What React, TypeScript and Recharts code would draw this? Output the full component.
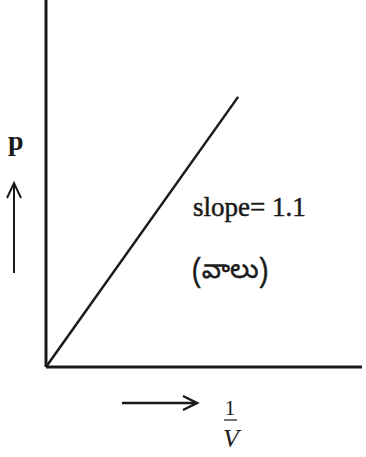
import React from "react";
import { LineChart, Line, XAxis, YAxis, ReferenceLine, Customized } from "recharts";

const xValues = [0, 6.08];
const pValues = [0, 7.36];
const slopeLabel = "slope= 1.1";
const teluguLabel = "(వాలు)";
const yLabel = "p";
const xNumerator = "1";
const xDenominator = "V";

const data = xValues.map((x, i) => ({ x, p: pValues[i] }));

const INK = "#1a1a1a";
const SERIF = "'Liberation Serif', 'DejaVu Serif', serif";

const Annotations = () => (
  <g>
    <text x={8} y={150} fontFamily={SERIF} fontSize={28} fontWeight="bold" fill={INK}>
      {yLabel}
    </text>
    <line x1={14} y1={273} x2={14} y2={184} stroke={INK} strokeWidth={2} />
    <polyline points="7,198 14,183 21,198" fill="none" stroke={INK} strokeWidth={2} />
    <text x={193} y={216} fontFamily={SERIF} fontSize={27} fill={INK} stroke={INK} strokeWidth={0.5}>
      {slopeLabel}
    </text>
    <text x={192} y={278} fontFamily="'Noto Sans Telugu', 'Noto Sans', sans-serif" fontSize={27} fill={INK} stroke={INK} strokeWidth={0.4}>
      {teluguLabel}
    </text>
    <line x1={122} y1={403} x2={196} y2={403} stroke={INK} strokeWidth={2.5} />
    <polyline points="183,396 197,403 183,410" fill="none" stroke={INK} strokeWidth={2.5} />
    <text x={230} y={415} textAnchor="middle" fontFamily={SERIF} fontSize={21} fill={INK}>
      {xNumerator}
    </text>
    <line x1={224} y1={420} x2={237} y2={420} stroke={INK} strokeWidth={1.2} />
    <text x={231} y={447} textAnchor="middle" fontFamily={SERIF} fontStyle="italic" fontSize={26} fill={INK}>
      {xDenominator}
    </text>
  </g>
);

export default function App() {
  return (
    <div style={{ position: "absolute", left: 0, top: 0, background: "#fff" }}>
      <LineChart
        width={366}
        height={457}
        data={data}
        margin={{ top: 0, right: 4, left: 46, bottom: 90 }}
      >
        <XAxis dataKey="x" type="number" domain={[0, 10]} hide />
        <YAxis type="number" domain={[0, 10]} hide />
        <ReferenceLine x={0} stroke={INK} strokeWidth={3} />
        <ReferenceLine y={0} stroke={INK} strokeWidth={3} />
        <Line
          dataKey="p"
          stroke={INK}
          strokeWidth={2.5}
          dot={false}
          isAnimationActive={false}
        />
        <Customized component={Annotations} />
      </LineChart>
    </div>
  );
}
